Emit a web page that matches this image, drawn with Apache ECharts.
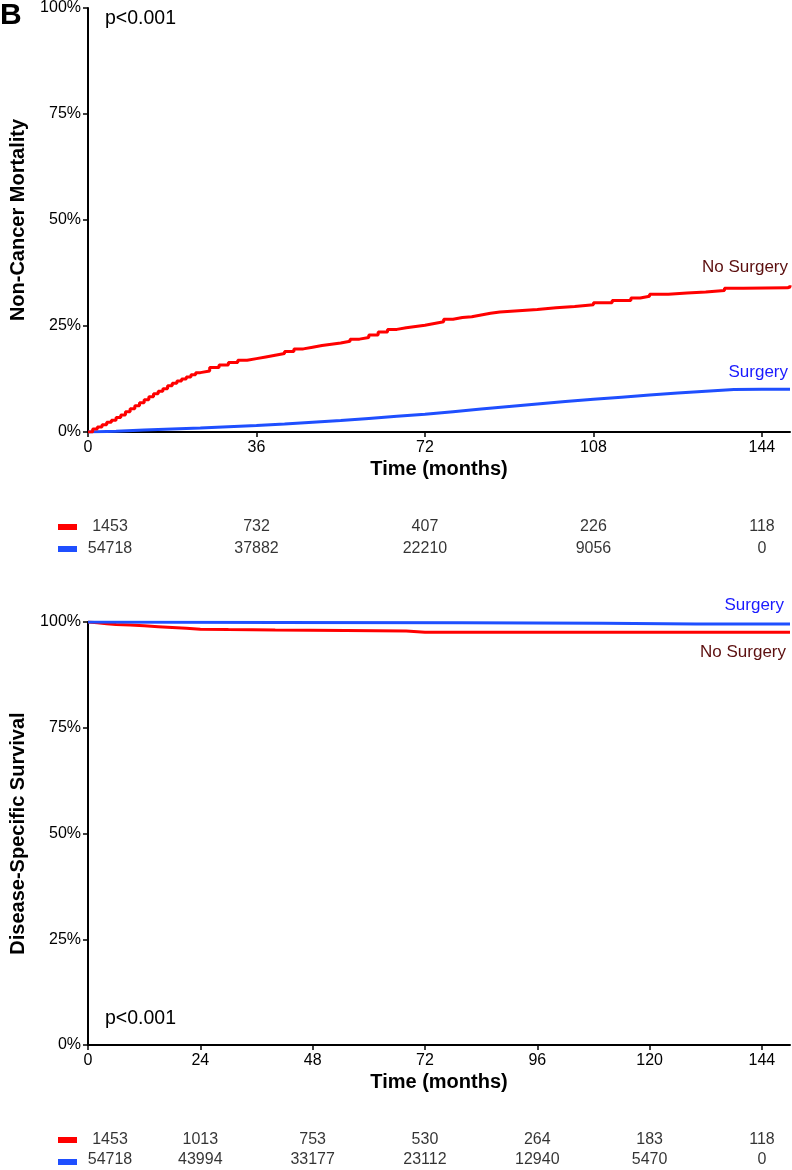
<!DOCTYPE html>
<html>
<head>
<meta charset="utf-8">
<script src="https://cdn.jsdelivr.net/npm/echarts@6/dist/echarts.min.js"></script>
<style>html,body{margin:0;padding:0;background:#fff}#c{width:792px;height:1170px}</style>
</head>
<body>
<div id="c"></div>
<script>
// ---- data ----
const topTimeTicks = [0, 36, 72, 108, 144];
const bottomTimeTicks = [0, 24, 48, 72, 96, 120, 144];
const pctTicks = [0, 25, 50, 75, 100];
const groups = ['No Surgery', 'Surgery'];

// Non-cancer mortality (%), [months, value]
const ncmNoSurgery = [[0,0],[1,0.7],[2,1.2],[3,1.7],[4,2.3],[5,2.8],[6,3.4],[7,4.0],[8,4.8],[9,5.5],[10,6.2],[11,6.9],[12,7.6],[13,8.3],[14,9.0],[15,9.6],[16,10.2],[17,10.9],[18,11.5],[19,12.0],[20,12.5],[21,13.0],[22,13.5],[23,14.0],[24,14.4],[26,15.2],[28,15.8],[30,16.4],[32,16.9],[34,17.3],[36,17.7],[38,18.1],[40,18.5],[42,19.0],[44,19.6],[46,20.0],[48,20.4],[50,20.7],[52,21.0],[54,21.4],[56,21.9],[58,22.3],[60,22.9],[62,23.6],[64,24.2],[66,24.6],[68,24.9],[70,25.2],[72,25.6],[74,26.0],[76,26.6],[78,27.0],[80,27.2],[82,27.6],[84,28.0],[86,28.3],[88,28.6],[92,28.9],[96,29.3],[100,29.6],[104,30.0],[108,30.5],[112,31.0],[116,31.6],[118,32.0],[120,32.5],[124,32.8],[128,33.0],[132,33.4],[136,33.9],[140,34.0],[149.5,34.2],[150,34.6]];
const ncmSurgery = [[0,0],[6,0.2],[12,0.45],[18,0.7],[24,0.95],[30,1.25],[36,1.55],[42,1.9],[48,2.3],[54,2.7],[60,3.2],[66,3.7],[72,4.2],[78,4.8],[84,5.4],[90,6.0],[96,6.6],[102,7.2],[108,7.7],[114,8.2],[120,8.7],[126,9.2],[132,9.6],[138,10.0],[144,10.1],[150,10.1]];

// Disease-specific survival (%)
const dssNoSurgery = [[0,100],[2,99.8],[4,99.6],[6,99.4],[9,99.3],[12,99.1],[15,98.9],[18,98.7],[21,98.5],[24,98.3],[30,98.2],[40,98.1],[55,98.0],[68,97.9],[72,97.6],[150,97.6]];
const dssSurgery = [[0,100],[40,99.9],[80,99.8],[110,99.7],[130,99.5],[150,99.5]];

// Numbers at risk
const topRiskTimes = [0, 36, 72, 108, 144];
const topRiskNoSurgery = [1453, 732, 407, 226, 118];
const topRiskSurgery = [54718, 37882, 22210, 9056, 0];
const bottomRiskTimes = [0, 24, 48, 72, 96, 120, 144];
const bottomRiskNoSurgery = [1453, 1013, 753, 530, 264, 183, 118];
const bottomRiskSurgery = [54718, 43994, 33177, 23112, 12940, 5470, 0];

// ---- style ----
const RED = '#ff0000', BLUE = '#1f4fff';
const FONT = 'Liberation Sans, Arial, Helvetica, sans-serif';

function timeAxis(gridIndex, ticks) {
  return {
    type: 'value', gridIndex, min: 0, max: 150,
    axisLine: { show: true, onZero: false, lineStyle: { color: '#000', width: 2 } },
    axisTick: { show: true, customValues: ticks, length: 5, lineStyle: { color: '#000', width: 1.5 } },
    axisLabel: { customValues: ticks, color: '#000', fontSize: 16, fontFamily: FONT, margin: 8 },
    splitLine: { show: false },
    name: 'Time (months)', nameLocation: 'middle', nameGap: 27,
    nameTextStyle: { fontWeight: 'bold', fontSize: 20, color: '#000', fontFamily: FONT }
  };
}
function pctAxis(gridIndex, name) {
  return {
    type: 'value', gridIndex, min: 0, max: 100, interval: 25,
    axisLine: { show: true, onZero: false, lineStyle: { color: '#000', width: 2 } },
    axisTick: { show: true, length: 5, lineStyle: { color: '#000', width: 1.5 } },
    axisLabel: { formatter: '{value}%', color: '#000', fontSize: 16, fontFamily: FONT, margin: 7 },
    splitLine: { show: false },
    name, nameLocation: 'middle', nameGap: 60,
    nameTextStyle: { fontWeight: 'bold', fontSize: 20, color: '#000', fontFamily: FONT }
  };
}
function hiddenX(gridIndex) { return { type: 'value', gridIndex, min: 0, max: 150, show: false }; }
function hiddenY(gridIndex) { return { type: 'category', gridIndex, data: groups, inverse: true, show: false }; }

function riskSeries(axisIdx, times, counts, group) {
  return {
    type: 'scatter', xAxisIndex: axisIdx, yAxisIndex: axisIdx, silent: true,
    symbolSize: 1, itemStyle: { color: 'rgba(0,0,0,0)' },
    data: times.map((t, i) => {
      const d = { value: [t, group, counts[i]] };
      if (i === 0) d.label = { offset: [22, 0] };
      return d;
    }),
    label: { show: true, position: 'inside', formatter: p => String(p.value[2]),
      color: '#000', fontSize: 16, fontFamily: FONT }
  };
}
function kmSeries(axisIdx, data, color, step) {
  return { type: 'line', xAxisIndex: axisIdx, yAxisIndex: axisIdx, data, step: step ? 'end' : false,
    showSymbol: false, symbol: 'none', lineStyle: { color, width: 3 }, silent: true };
}

const chart = echarts.init(document.getElementById('c'), null, { renderer: 'canvas' });
chart.setOption({
  animation: false,
  backgroundColor: '#fff',
  grid: [
    { left: 88, right: 2, top: 7, height: 425 },
    { left: 88, right: 2, top: 622, height: 423 },
    { left: 88, right: 2, top: 516, height: 44 },
    { left: 88, right: 2, top: 1129, height: 44 }
  ],
  xAxis: [timeAxis(0, topTimeTicks), timeAxis(1, bottomTimeTicks), hiddenX(2), hiddenX(3)],
  yAxis: [pctAxis(0, 'Non-Cancer Mortality'), pctAxis(1, 'Disease-Specific Survival'), hiddenY(2), hiddenY(3)],
  series: [
    kmSeries(0, ncmSurgery, BLUE, false),
    kmSeries(0, ncmNoSurgery, RED, true),
    kmSeries(1, dssNoSurgery, RED, false),
    kmSeries(1, dssSurgery, BLUE, false),
    riskSeries(2, topRiskTimes, topRiskNoSurgery, groups[0]),
    riskSeries(2, topRiskTimes, topRiskSurgery, groups[1]),
    riskSeries(3, bottomRiskTimes, bottomRiskNoSurgery, groups[0]),
    riskSeries(3, bottomRiskTimes, bottomRiskSurgery, groups[1])
  ],
  graphic: [
    { type: 'text', left: 0, top: 1, style: { text: 'B', font: 'bold 30px ' + FONT, fill: '#000' } },
    { type: 'text', left: 105, top: 9, style: { text: 'p<0.001', font: '19.5px ' + FONT, fill: '#000' } },
    { type: 'text', left: 105, top: 1009, style: { text: 'p<0.001', font: '19.5px ' + FONT, fill: '#000' } },
    { type: 'text', x: 788, y: 267, style: { text: 'No Surgery', font: '17px ' + FONT, fill: '#5c0f0f', align: 'right', verticalAlign: 'middle' } },
    { type: 'text', x: 788, y: 372, style: { text: 'Surgery', font: '17px ' + FONT, fill: '#1a1aff', align: 'right', verticalAlign: 'middle' } },
    { type: 'text', x: 784, y: 605, style: { text: 'Surgery', font: '17px ' + FONT, fill: '#1a1aff', align: 'right', verticalAlign: 'middle' } },
    { type: 'text', x: 786, y: 652, style: { text: 'No Surgery', font: '17px ' + FONT, fill: '#5c0f0f', align: 'right', verticalAlign: 'middle' } },
    { type: 'rect', shape: { x: 58, y: 524, width: 19, height: 6 }, style: { fill: RED } },
    { type: 'rect', shape: { x: 58, y: 546, width: 19, height: 6 }, style: { fill: BLUE } },
    { type: 'rect', shape: { x: 58, y: 1137, width: 19, height: 6 }, style: { fill: RED } },
    { type: 'rect', shape: { x: 58, y: 1159, width: 19, height: 6 }, style: { fill: BLUE } }
  ]
});
</script>
</body>
</html>
